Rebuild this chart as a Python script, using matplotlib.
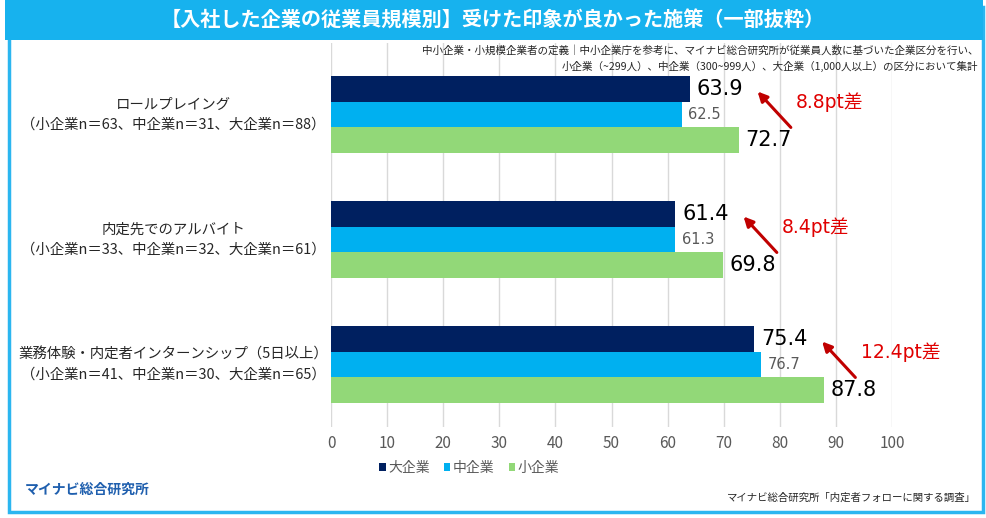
import matplotlib.pyplot as plt
from matplotlib.patches import Rectangle
from matplotlib.transforms import blended_transform_factory

plt.rcParams['font.family'] = ['Noto Sans CJK JP', 'DejaVu Sans']
NUM_FONT = ['DejaVu Sans', 'Noto Sans CJK JP']

# データ
categories = ['ロールプレイング', '内定先でのアルバイト', '業務体験・内定者インターンシップ（5日以上）']
sample_sizes = ['（小企業n＝63、中企業n＝31、大企業n＝88）',
                '（小企業n＝33、中企業n＝32、大企業n＝61）',
                '（小企業n＝41、中企業n＝30、大企業n＝65）']
large = [63.9, 61.4, 75.4]
medium = [62.5, 61.3, 76.7]
small = [72.7, 69.8, 87.8]
series_names = ['大企業', '中企業', '小企業']
colors = ['#002060', '#00b0f0', '#92d878']

fig = plt.figure(figsize=(9.86, 5.18), dpi=100)

# 枠とタイトル帯
fig.patches.append(Rectangle((0.009, 0.012), 0.988, 0.975, transform=fig.transFigure,
                             fill=False, edgecolor='#2bb6f0', linewidth=2.5))
fig.patches.append(Rectangle((0.005, 0.922), 0.992, 0.078, transform=fig.transFigure,
                             facecolor='#17b2ee', edgecolor='none'))
fig.text(0.5, 0.961, '【入社した企業の従業員規模別】受けた印象が良かった施策（一部抜粋）',
         ha='center', va='center', color='white', fontsize=14.5, fontweight='bold')

ax = fig.add_axes([0.3357, 0.1757, 0.569, 0.7413])
h = 0.204
pos = list(range(len(categories)))
b1 = ax.barh([p - h for p in pos], large, height=h, color=colors[0], label=series_names[0])
b2 = ax.barh(pos, medium, height=h, color=colors[1], label=series_names[1])
b3 = ax.barh([p + h for p in pos], small, height=h, color=colors[2], label=series_names[2])

ax.set_xlim(0, 100)
ax.set_ylim(2.5, -0.572)
ax.set_xticks(range(0, 101, 10))
ax.set_yticks([])
ax.tick_params(axis='x', length=0, labelsize=11, labelcolor='#595959', pad=6)
ax.grid(axis='x', color='#d9d9d9', linewidth=1)
ax.set_axisbelow(True)
for s in ax.spines.values():
    s.set_visible(False)

# 値ラベル
for i in pos:
    ax.text(large[i] + 1.2, i - h, f'{large[i]:.1f}', va='center', ha='left', fontsize=15,
            color='black', family=NUM_FONT)
    ax.text(medium[i] + 1.2, i, f'{medium[i]:.1f}', va='center', ha='left', fontsize=10.5,
            color='#595959', family=NUM_FONT)
    ax.text(small[i] + 1.2, i + h, f'{small[i]:.1f}', va='center', ha='left', fontsize=15,
            color='black', family=NUM_FONT)

    # 差の矢印
    tip_x, tip_y = large[i] + 11.8, i - 0.2
    ax.annotate('', xy=(tip_x, tip_y), xytext=(tip_x + 6.6, i + 0.12),
                arrowprops=dict(arrowstyle='-|>', color='#c00000', lw=2.2, mutation_scale=14))
    ax.text(tip_x + 7.2, tip_y + 0.1, f'{small[i] - large[i]:.1f}pt差',
            ha='left', va='center', fontsize=13.5, color='#e00000', family=NUM_FONT)

# カテゴリラベル
tr = blended_transform_factory(fig.transFigure, ax.transData)
for i in pos:
    fig.text(0.1755, i, categories[i] + '\n' + sample_sizes[i], transform=tr,
             ha='center', va='center', fontsize=10.4, color='#262626', linespacing=1.5)

fig.legend(handles=[b1, b2, b3], loc='center', bbox_to_anchor=(0.476, 0.097), ncol=3,
           frameon=False, fontsize=10, handlelength=0.45, handleheight=0.45,
           handletextpad=0.2, columnspacing=1.0, labelcolor='#595959')

fig.text(0.992, 0.903, '中小企業・小規模企業者の定義｜中小企業庁を参考に、マイナビ総合研究所が従業員人数に基づいた企業区分を行い、',
         ha='right', va='center', fontsize=7.6, color='#262626')
fig.text(0.992, 0.872, '小企業（~299人）、中企業（300~999人）、大企業（1,000人以上）の区分において集計',
         ha='right', va='center', fontsize=7.6, color='#262626')
fig.text(0.025, 0.054, 'マイナビ総合研究所', ha='left', va='center', fontsize=10,
         fontweight='bold', color='#1f5fae')
fig.text(0.99, 0.04, 'マイナビ総合研究所「内定者フォローに関する調査」', ha='right', va='center',
         fontsize=7.5, color='#262626')

fig.savefig('out.png', dpi=100)
